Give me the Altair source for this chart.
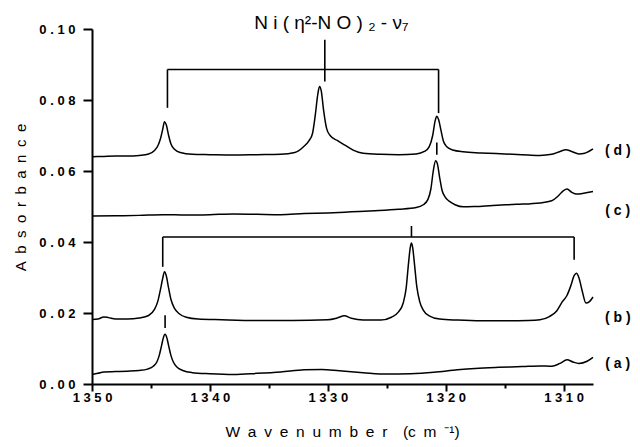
import json
import altair as alt
import pandas as pd

# ---- spectra (wavenumber, absorbance) ----
a_x = [1350.0, 1349.5, 1349.0, 1348.0, 1347.0, 1346.0, 1345.3, 1344.8, 1344.5, 1344.3, 1344.1, 1343.95, 1343.8,
       1343.65, 1343.5, 1343.3, 1343.1, 1342.8, 1342.3, 1341.5, 1340.0, 1338.0, 1336.0, 1334.0, 1332.0, 1330.5,
       1329.0, 1327.0, 1325.0, 1323.0, 1321.0, 1319.0, 1317.5, 1315.5, 1313.5, 1312.0, 1311.0, 1310.3, 1309.7,
       1309.2, 1308.7, 1308.0, 1307.5]
a_y = [0.0027, 0.0030, 0.0034, 0.0035, 0.0036, 0.0038, 0.0042, 0.0050, 0.0062, 0.0080, 0.0108, 0.0130, 0.0140,
       0.0130, 0.0108, 0.0080, 0.0062, 0.0048, 0.0038, 0.0032, 0.0029, 0.0027, 0.0030, 0.0034, 0.0040, 0.0041,
       0.0037, 0.0032, 0.0028, 0.0029, 0.0033, 0.0040, 0.0044, 0.0047, 0.0049, 0.0051, 0.0050, 0.0058, 0.0068,
       0.0062, 0.0058, 0.0064, 0.0075]

b_x = [1350.0, 1349.5, 1349.0, 1348.6, 1348.0, 1347.0, 1346.0, 1345.2, 1344.7, 1344.4, 1344.2, 1344.0, 1343.85,
       1343.7, 1343.5, 1343.3, 1343.0, 1342.6, 1342.0, 1341.0, 1339.0, 1336.0, 1333.0, 1330.0, 1329.2, 1328.6,
       1328.0, 1327.0, 1325.5, 1324.6, 1324.0, 1323.6, 1323.35, 1323.15, 1323.0, 1322.9, 1322.8, 1322.65, 1322.45,
       1322.2, 1321.9, 1321.4, 1320.5, 1319.0, 1317.0, 1315.0, 1313.0, 1312.0, 1311.2, 1310.6, 1310.1, 1309.7,
       1309.4, 1309.1, 1308.9, 1308.7, 1308.4, 1308.1, 1307.8, 1307.5]
b_y = [0.0182, 0.0183, 0.0189, 0.0187, 0.0183, 0.0183, 0.0186, 0.0193, 0.0210, 0.0235, 0.0265, 0.0298, 0.0316,
       0.0305, 0.0270, 0.0238, 0.0213, 0.0198, 0.0188, 0.0183, 0.0181, 0.0179, 0.0179, 0.0181, 0.0186, 0.0192,
       0.0185, 0.0180, 0.0180, 0.0188, 0.0203, 0.0228, 0.0270, 0.0340, 0.0385, 0.0397, 0.0385, 0.0340, 0.0275,
       0.0232, 0.0208, 0.0192, 0.0183, 0.0180, 0.0178, 0.0178, 0.0179, 0.0181, 0.0190, 0.0205, 0.0232, 0.0250,
       0.0275, 0.0305, 0.0312, 0.0300, 0.0260, 0.0228, 0.0232, 0.0245]

c_x = [1350.0, 1348.0, 1346.0, 1344.0, 1342.0, 1340.0, 1338.0, 1336.0, 1334.0, 1332.0, 1330.0, 1328.0, 1326.0,
       1324.0, 1322.5, 1321.9, 1321.5, 1321.25, 1321.05, 1320.85, 1320.7, 1320.5, 1320.3, 1320.05, 1319.7, 1319.2,
       1318.5, 1317.5, 1316.0, 1314.0, 1312.0, 1311.0, 1310.5, 1310.0, 1309.7, 1309.3, 1308.9, 1308.3, 1307.5]
c_y = [0.0473, 0.0474, 0.0475, 0.0477, 0.0476, 0.0477, 0.0479, 0.0478, 0.0477, 0.0480, 0.0482, 0.0485, 0.0488,
       0.0492, 0.0497, 0.0505, 0.0520, 0.0550, 0.0600, 0.0629, 0.0620, 0.0580, 0.0545, 0.0527, 0.0515, 0.0505,
       0.0499, 0.0500, 0.0503, 0.0506, 0.0510, 0.0516, 0.0528, 0.0545, 0.0549, 0.0540, 0.0535, 0.0537, 0.0542]

d_x = [1350.0, 1349.0, 1348.0, 1347.0, 1346.0, 1345.2, 1344.7, 1344.4, 1344.2, 1344.0, 1343.85, 1343.7, 1343.5,
       1343.3, 1343.0, 1342.5, 1341.5, 1340.0, 1338.0, 1336.0, 1334.0, 1332.8, 1332.1, 1331.6, 1331.3, 1331.05,
       1330.85, 1330.7, 1330.55, 1330.35, 1330.1, 1329.8, 1329.2, 1328.5, 1327.8, 1327.0, 1325.5, 1324.0, 1322.5,
       1321.8, 1321.4, 1321.1, 1320.9, 1320.75, 1320.6, 1320.4, 1320.2, 1319.9, 1319.4, 1318.5, 1317.0, 1315.0,
       1313.0, 1312.0, 1311.0, 1310.3, 1309.8, 1309.3, 1308.7, 1308.2, 1307.5]
d_y = [0.0640, 0.0641, 0.0642, 0.0642, 0.0644, 0.0648, 0.0658, 0.0672, 0.0690, 0.0718, 0.0739, 0.0730, 0.0700,
       0.0676, 0.0661, 0.0652, 0.0647, 0.0646, 0.0645, 0.0646, 0.0647, 0.0652, 0.0667, 0.0685, 0.0705, 0.0760,
       0.0815, 0.0838, 0.0825, 0.0770, 0.0720, 0.0700, 0.0686, 0.0672, 0.0658, 0.0650, 0.0647, 0.0646, 0.0648,
       0.0655, 0.0668, 0.0700, 0.0740, 0.0754, 0.0745, 0.0715, 0.0685, 0.0668, 0.0659, 0.0654, 0.0651, 0.0648,
       0.0645, 0.0644, 0.0647, 0.0655, 0.0660, 0.0655, 0.0648, 0.0650, 0.0662]

# ---- trace labels ----
trace_names = ["(a)", "(b)", "(c)", "(d)"]
trace_label_x = [1305.4, 1305.4, 1305.4, 1305.4]
trace_label_y = [0.0056, 0.0186, 0.0488, 0.0657]

# ---- bracket segments (assignment marks) ----
seg_x = [1343.6, 1343.6, 1320.6, 1330.25, 1320.75, 1344.0, 1344.0, 1309.1, 1322.9, 1343.8]
seg_x2 = [1320.6, 1343.6, 1320.6, 1330.25, 1320.75, 1309.1, 1344.0, 1309.1, 1322.9, 1343.8]
seg_y = [0.0886, 0.0886, 0.0886, 0.0852, 0.0646, 0.0414, 0.0414, 0.0414, 0.0414, 0.0158]
seg_y2 = [0.0886, 0.0778, 0.0763, 0.0970, 0.0680, 0.0414, 0.0330, 0.0350, 0.0445, 0.0194]

annot_text = ["N i ( \u03b7\u00b2-N  O ) \u2082  -  \u03bd\u2087"]
annot_x = [1329.7]
annot_y = [0.100]

# ---- axes ----
wn_ticks = [1350, 1345, 1340, 1335, 1330, 1325, 1320, 1315, 1310]
wn_labels = ["1350", "", "1340", "", "1330", "", "1320", "", "1310"]
abs_ticks = [0.00, 0.01, 0.02, 0.03, 0.04, 0.05, 0.06, 0.07, 0.08, 0.09, 0.10]
abs_labels = ["0.00", "", "0.02", "", "0.04", "", "0.06", "", "0.08", "", "0.10"]

x_title = "\u2002".join("Wavenumber") + "\u2002\u2002(c\u2002m\u2002\u207b\u00b9)"
y_title = "\u2002".join("Absorbance")

FONT = "Liberation Sans"

def spaced(s):
    return " ".join(s) if s else ""

wn_expr = json.dumps([spaced(s) for s in wn_labels]) + "[round((1350 - datum.value) / 5)]"
abs_expr = json.dumps([spaced(s) for s in abs_labels]) + "[round(datum.value * 100)]"

frames = []
for name, xs, ys in [("a", a_x, a_y), ("b", b_x, b_y), ("c", c_x, c_y), ("d", d_x, d_y)]:
    frames.append(pd.DataFrame({"wn": xs, "A": ys, "trace": name}))
spectra = pd.concat(frames, ignore_index=True)

x_scale = alt.Scale(domain=[1350, 1307.5], nice=False, zero=False)
y_scale = alt.Scale(domain=[0, 0.10], nice=False, zero=False)

x_axis = alt.Axis(
    values=wn_ticks, labelExpr=wn_expr, title=x_title, grid=False,
    tickSize={"condition": {"test": "round(datum.value) % 10 == 0", "value": 7}, "value": 4},
    tickWidth=2, tickColor="black", domainWidth=2, domainColor="black",
    labelFont=FONT, labelFontSize=13, labelFontWeight="bold", labelColor="black", labelPadding=0,
    labelOverlap=False, labelFlush=False,
    titleFont=FONT, titleFontSize=15.5, titleFontWeight="normal", titleColor="black",
    titleX=250, titleY=52, titleBaseline="alphabetic",
)
y_axis = alt.Axis(
    values=abs_ticks, labelExpr=abs_expr, title=y_title, grid=False,
    tickSize={"condition": {"test": "round(datum.value * 100) % 2 == 0", "value": 9}, "value": 5},
    tickWidth=2, tickColor="black", domainWidth=2, domainColor="black",
    labelFont=FONT, labelFontSize=13, labelFontWeight="bold", labelColor="black", labelPadding=8,
    labelOverlap=False, labelFlush=False,
    titleFont=FONT, titleFontSize=15, titleFontWeight="normal", titleColor="black",
    titleX=-72, titleY=168, titleBaseline="middle", titleAngle=270,
)

lines = alt.Chart(spectra).mark_line(color="black", strokeWidth=1.5, interpolate="monotone").encode(
    x=alt.X("wn:Q", scale=x_scale, axis=x_axis),
    y=alt.Y("A:Q", scale=y_scale, axis=y_axis),
    detail="trace:N",
)

segs = pd.DataFrame({"x": seg_x, "x2": seg_x2, "y": seg_y, "y2": seg_y2})
rules = alt.Chart(segs).mark_rule(color="black", strokeWidth=1.6).encode(
    x=alt.X("x:Q", scale=x_scale), x2="x2:Q",
    y=alt.Y("y:Q", scale=y_scale), y2="y2:Q",
)

lab_df = pd.DataFrame({"name": [" ".join(n) for n in trace_names], "x": trace_label_x, "y": trace_label_y})
labels = alt.Chart(lab_df).mark_text(font=FONT, fontSize=14, fontWeight="bold", color="black",
                                     align="center", baseline="middle").encode(
    x=alt.X("x:Q", scale=x_scale), y=alt.Y("y:Q", scale=y_scale), text="name:N")

ann_df = pd.DataFrame({"t": annot_text, "x": annot_x, "y": annot_y})
annot = alt.Chart(ann_df).mark_text(font=FONT, fontSize=19, color="black", align="center",
                                    baseline="alphabetic").encode(
    x=alt.X("x:Q", scale=x_scale), y=alt.Y("y:Q", scale=y_scale), text="t:N")

chart = alt.layer(lines, rules, labels, annot).properties(
    width=501, height=355,
    autosize=alt.AutoSizeParams(type="none"),
    padding={"left": 92, "top": 29, "right": 47, "bottom": 63},
    background="white",
).configure_view(stroke=None)

chart.save("out.html", embed_options={"renderer": "svg", "actions": False})
